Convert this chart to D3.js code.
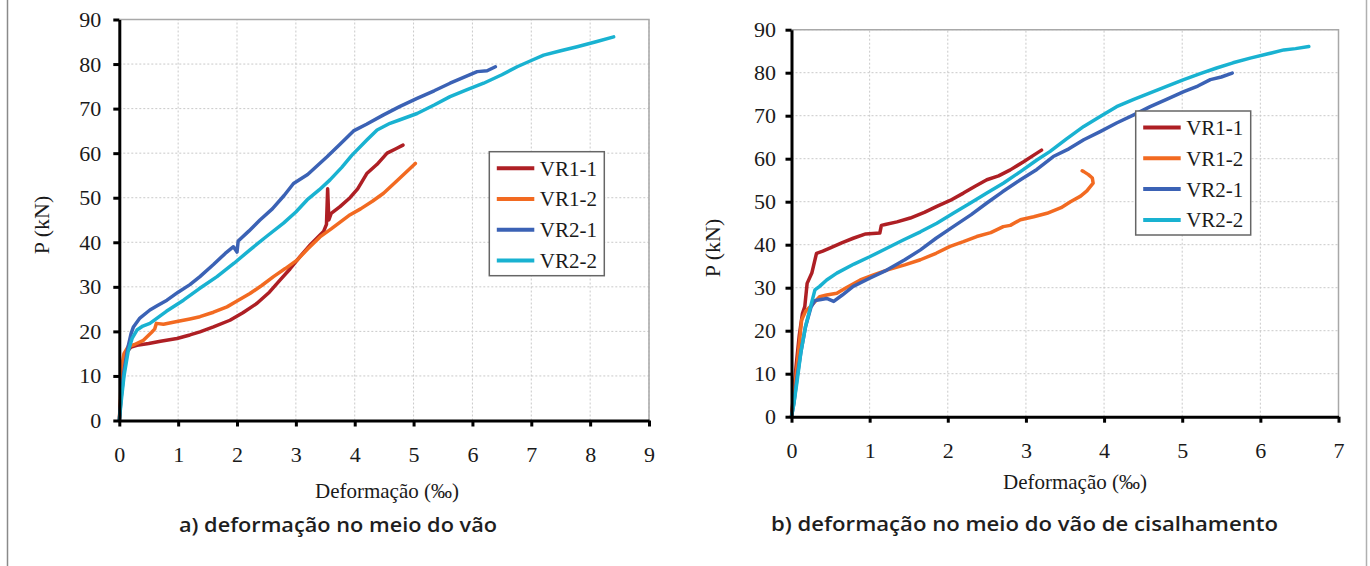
<!DOCTYPE html>
<html><head><meta charset="utf-8">
<script src="https://cdn.jsdelivr.net/npm/d3@7"></script>
<style>html,body{margin:0;padding:0;background:#fff;}svg{display:block;}</style>
</head><body>
<svg id="chart" width="1370" height="566"></svg>
<script>
// ---------- DATA ----------
const seriesNames = ["VR1-1", "VR1-2", "VR2-1", "VR2-2"];
const seriesColors = ["#ae1f24", "#f26a21", "#3b62b5", "#19b2d1"];

const xTicksA = [0,1,2,3,4,5,6,7,8,9];
const xTicksB = [0,1,2,3,4,5,6,7];
const yTicks = [0,10,20,30,40,50,60,70,80,90];

const yLabel = "P (kN)";
const xLabel = "Deformação (‰)";
const captionA = "a) deformação no meio do vão";
const captionB = "b) deformação no meio do vão de cisalhamento";

// (a) deformação no meio do vão
const a_VR11_x = [0,0.03,0.07,0.13,0.2,0.3,0.5,0.7,0.98,1.2,1.37,1.6,1.88,2.1,2.34,2.55,2.73,2.9,3.07,3.25,3.47,3.52,3.54,3.56,3.6,3.75,3.92,4.05,4.21,4.38,4.55,4.7,4.82];
const a_VR11_y = [0,6,11,15.4,16.5,16.9,17.3,17.8,18.4,19.2,19.9,21,22.5,24.2,26.3,28.8,31.5,34,36.8,39.5,42.4,44,52,45,46.5,48,50,52,55.5,57.5,60,61,61.8];
const a_VR12_x = [0,0.02,0.04,0.08,0.15,0.25,0.41,0.55,0.6,0.63,0.75,0.98,1.2,1.37,1.6,1.83,2.0,2.22,2.42,2.62,2.82,3.02,3.2,3.41,3.6,3.9,4.1,4.3,4.49,4.75,5.03];
const a_VR12_y = [0,5,12,15,16.6,17,18,19.8,20.5,21.8,21.6,22.2,22.8,23.3,24.3,25.5,26.8,28.5,30.3,32.3,34.1,36,38.5,41.2,43,46,47.5,49.2,51,54.2,57.7];
const a_VR21_x = [0,0.03,0.08,0.14,0.2,0.24,0.35,0.52,0.65,0.81,1.0,1.2,1.37,1.6,1.8,1.94,2.0,2.02,2.2,2.39,2.6,2.8,2.96,3.2,3.53,3.75,3.98,4.2,4.49,4.77,5.06,5.35,5.62,5.85,6.08,6.25,6.39];
const a_VR21_y = [0,5,11,16,19.5,21,23,24.8,25.8,27,28.8,30.5,32.3,35,37.5,39,37.8,40.3,42.5,45,47.5,50.5,53.2,55.2,59.2,62,65,66.5,68.6,70.5,72.3,74,75.7,77,78.3,78.5,79.4];
const a_VR22_x = [0,0.03,0.08,0.15,0.22,0.3,0.4,0.52,0.8,1.09,1.35,1.66,1.95,2.22,2.5,2.79,3.0,3.19,3.4,3.58,3.78,3.95,4.21,4.38,4.6,4.77,5.06,5.35,5.62,5.9,6.19,6.5,6.76,7.0,7.21,7.5,7.78,8.1,8.4];
const a_VR22_y = [0,4,10,15.5,18.5,20.3,21.2,21.8,24.5,27,29.5,32.3,35.3,38.3,41.3,44.3,46.8,49.5,51.8,54,56.8,59.5,63,65.2,66.7,67.5,68.9,70.8,72.7,74.2,75.7,77.6,79.4,80.8,82,83,83.9,85,86.1];

// (b) deformação no meio do vão de cisalhamento
const b_VR11_x = [0,0.03,0.06,0.1,0.14,0.17,0.2,0.26,0.32,0.4,0.49,0.65,0.79,0.95,1.13,1.15,1.2,1.35,1.52,1.7,1.86,2.03,2.2,2.35,2.5,2.65,2.8,2.97,3.14,3.2];
const b_VR11_y = [0,6,12,19,24,25.6,31,33.4,38,38.5,39.2,40.5,41.5,42.5,42.7,44.5,44.7,45.3,46.2,47.5,48.9,50.3,52,53.6,55.1,56,57.4,59.3,61.3,62];
const b_VR12_x = [0,0.03,0.07,0.1,0.13,0.18,0.24,0.36,0.45,0.58,0.7,0.88,1.05,1.22,1.45,1.65,1.85,2.03,2.2,2.37,2.55,2.71,2.8,2.93,3.1,3.27,3.45,3.57,3.7,3.78,3.86,3.85,3.8,3.74,3.72];
const b_VR12_y = [0,5,11.6,17,22.5,24.5,25.6,27.9,28.3,28.7,30,31.8,33,34.1,35.3,36.5,38,39.6,40.7,41.9,42.8,44.2,44.5,45.8,46.5,47.3,48.6,50,51.3,52.5,54.3,55.5,56.3,57,57.2];
const b_VR21_x = [0,0.03,0.07,0.12,0.18,0.25,0.3,0.36,0.45,0.54,0.65,0.79,1.0,1.22,1.45,1.65,1.85,2.07,2.3,2.5,2.7,2.93,3.14,3.35,3.55,3.74,3.95,4.16,4.38,4.59,4.8,5.02,5.2,5.36,5.5,5.64];
const b_VR21_y = [0,3,9,15,21,25.5,27,27.2,27.5,26.8,28.3,30.3,32.2,34.1,36.5,38.8,41.5,44.2,47,49.7,52.3,55.1,57.5,60.5,62.3,64.4,66.3,68.3,70.2,72.1,73.8,75.6,76.9,78.4,79,79.9];
const b_VR22_x = [0,0.03,0.07,0.12,0.18,0.25,0.3,0.36,0.45,0.58,0.8,1.0,1.2,1.43,1.65,1.86,2.07,2.29,2.5,2.71,2.93,3.14,3.31,3.52,3.74,3.95,4.16,4.38,4.59,4.8,5.02,5.23,5.44,5.65,5.87,6.1,6.3,6.45,6.62];
const b_VR22_y = [0,3,8,15,21,26,29.5,30.3,31.8,33.4,35.5,37.2,39,41.1,43,45,47.3,49.7,52,54.3,57,59.7,61.7,64.6,67.5,69.8,72.1,73.8,75.3,76.8,78.4,79.8,81.1,82.3,83.4,84.4,85.3,85.6,86.1];

// ---------- DRAW ----------
const svg = d3.select("#chart");
const serif = "'Liberation Serif','Times New Roman',serif";

// page frame lines
svg.append("line").attr("x1",7.5).attr("x2",7.5).attr("y1",0).attr("y2",566).attr("stroke","#8a8a8a").attr("stroke-width",1.5);
svg.append("line").attr("x1",1366.5).attr("x2",1366.5).attr("y1",0).attr("y2",566).attr("stroke","#b0b0b0").attr("stroke-width",1.5);

function zip(xs, ys){ return xs.map((x,i)=>[x, ys[i]]); }

function panel(cfg){
  const x = d3.scaleLinear().domain([0, cfg.xMax]).range([cfg.x0, cfg.x1]);
  const y = d3.scaleLinear().domain([0, 90]).range([cfg.y0, cfg.y1]);
  const g = svg.append("g");

  // gridlines
  g.append("g").selectAll("line").data(yTicks.slice(1)).join("line")
    .attr("x1", cfg.x0).attr("x2", cfg.x1).attr("y1", d=>y(d)).attr("y2", d=>y(d))
    .attr("stroke", "#c9c9c9").attr("stroke-width", 1).attr("stroke-dasharray", "2,2");
  g.append("g").selectAll("line").data(cfg.xTicks.slice(1)).join("line")
    .attr("x1", d=>x(d)).attr("x2", d=>x(d)).attr("y1", cfg.y0).attr("y2", cfg.y1)
    .attr("stroke", "#c9c9c9").attr("stroke-width", 1).attr("stroke-dasharray", "2,2");

  // top/right frame
  g.append("path").attr("d", `M${cfg.x0},${cfg.y1}H${cfg.x1}V${cfg.y0}`)
    .attr("fill","none").attr("stroke","#a8a8a8").attr("stroke-width",1.5);

  // series
  const line = d3.line().x(d=>x(d[0])).y(d=>y(d[1]));
  cfg.series.forEach((s,i)=>{
    g.append("path").datum(s).attr("d", line).attr("fill","none")
      .attr("stroke", seriesColors[i]).attr("stroke-width", 3.5)
      .attr("stroke-linejoin","round").attr("stroke-linecap","round");
  });

  // axes
  const ax = g.append("g").attr("transform", `translate(0,${cfg.y0})`)
    .call(d3.axisBottom(x).tickValues(cfg.xTicks).tickFormat(d3.format("d")).tickSize(6).tickSizeOuter(0).tickPadding(20));
  const ay = g.append("g").attr("transform", `translate(${cfg.x0},0)`)
    .call(d3.axisLeft(y).tickValues(yTicks).tickFormat(d3.format("d")).tickSize(6).tickSizeOuter(0).tickPadding(cfg.yPad));
  [ax, ay].forEach(a=>{
    a.select(".domain").attr("stroke","#000").attr("stroke-width",3);
    a.selectAll(".tick line").attr("stroke","#000").attr("stroke-width",3);
    a.selectAll(".tick text").attr("font-family", serif).attr("font-size", 22).attr("fill","#1a1a1a");
  });

  // axis titles
  g.append("text").attr("x", cfg.xTitleX).attr("y", cfg.xTitleY).attr("text-anchor","middle")
    .attr("font-family", serif).attr("font-size", 21).attr("fill","#1a1a1a").text(xLabel);
  g.append("text").attr("transform", `translate(${cfg.yTitleX},${cfg.yTitleY}) rotate(-90)`)
    .attr("text-anchor","middle").attr("dominant-baseline","middle")
    .attr("font-family", serif).attr("font-size", 22).attr("fill","#1a1a1a").text(yLabel);

  // caption
  g.append("text").attr("x", cfg.capX).attr("y", cfg.capY)
    .attr("font-family", "'Open Sans','DejaVu Sans',sans-serif").attr("font-size", 19.5)
    .attr("font-weight", 600).attr("fill","#1e1e1e")
    .attr("textLength", cfg.capW).attr("lengthAdjust","spacingAndGlyphs").text(cfg.caption);

  // legend
  const lg = g.append("g").attr("transform", `translate(${cfg.legX},${cfg.legY})`);
  lg.append("rect").attr("x",0).attr("y",0).attr("width",115).attr("height",124)
    .attr("fill","#fff").attr("stroke","#666").attr("stroke-width",1.5);
  seriesNames.forEach((n,i)=>{
    const ry = 16.5 + i*30.8;
    lg.append("line").attr("x1",7.5).attr("x2",45).attr("y1",ry).attr("y2",ry)
      .attr("stroke", seriesColors[i]).attr("stroke-width",4);
    lg.append("text").attr("x",50.5).attr("y",ry+7.5)
      .attr("font-family", serif).attr("font-size",21).attr("fill","#1a1a1a").text(n);
  });
}

panel({
  xMax: 9, xTicks: xTicksA, x0: 119.3, x1: 649, y0: 420.5, y1: 19.5, yPad: 12,
  series: [zip(a_VR11_x,a_VR11_y), zip(a_VR12_x,a_VR12_y), zip(a_VR21_x,a_VR21_y), zip(a_VR22_x,a_VR22_y)],
  xTitleX: 387, xTitleY: 498, yTitleX: 44, yTitleY: 225,
  caption: captionA, capX: 179, capY: 532, capW: 318,
  legX: 489.3, legY: 151.7
});
panel({
  xMax: 7, xTicks: xTicksB, x0: 791.5, x1: 1338.5, y0: 416.7, y1: 29.7, yPad: 9.5,
  series: [zip(b_VR11_x,b_VR11_y), zip(b_VR12_x,b_VR12_y), zip(b_VR21_x,b_VR21_y), zip(b_VR22_x,b_VR22_y)],
  xTitleX: 1075, xTitleY: 489, yTitleX: 715, yTitleY: 248,
  caption: captionB, capX: 771, capY: 531, capW: 507,
  legX: 1135.7, legY: 111
});
</script>
</body></html>
